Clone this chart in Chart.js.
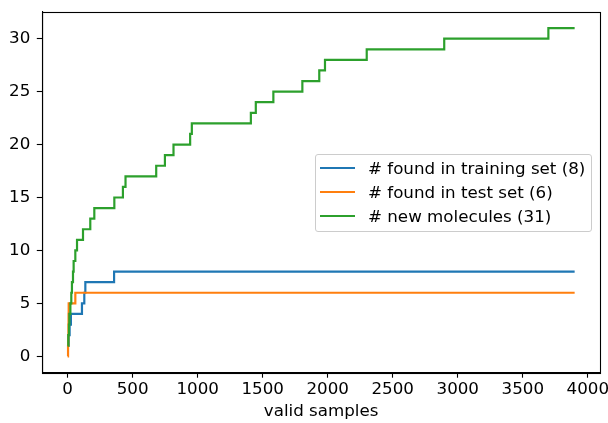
<!DOCTYPE html>
<html>
<head>
<meta charset="utf-8">
<script src="https://cdn.jsdelivr.net/npm/chart.js@4/dist/chart.umd.min.js"></script>
<style>
  body { margin: 0; background: #fff; }
  #wrap { position: relative; width: 608px; height: 423px; }
  #legend {
    position: absolute; left: 315px; top: 154px; width: 275px; height: 75px;
    border: 1px solid #cccccc; border-radius: 3px; background: rgba(255,255,255,0.8);
    font-family: "DejaVu Sans", sans-serif; font-size: 16.7px; color: #000;
    padding-top: 0.5px; box-sizing: content-box;
  }
  .row { position: relative; height: 24.3px; line-height: 24.3px; white-space: nowrap; }
  .row .h { position: absolute; left: 4px; top: 11px; width: 35px; height: 2.2px; }
  .row .t { position: absolute; left: 52px; top: 0; }
</style>
</head>
<body>
<div id="wrap">
  <canvas id="grafik" width="608" height="423"></canvas>
  <div id="legend"></div>
</div>
<script>
// cumulative counts vs. valid samples (x = sample where the count steps up)
const trainX = [0, 8, 15, 25, 110, 128, 136, 357, 3899];
const trainY = [1, 2, 3, 4, 5, 6, 7, 8, 8];

const testX = [0, 3, 5, 6, 7, 8, 59, 3899];
const testY = [0, 1, 2, 3, 4, 5, 6, 6];

const newX = [0, 5, 10, 13, 21, 28, 33, 41, 46, 59, 72, 118, 174, 205, 359, 425, 445,
              681, 748, 814, 942, 955, 1409, 1447, 1582, 1805, 1935, 1979, 2300, 2896, 3697, 3899];
const newY = [1, 2, 3, 4, 5, 6, 7, 8, 9, 10, 11, 12, 13, 14, 15, 16, 17,
              18, 19, 20, 21, 22, 23, 24, 25, 26, 27, 28, 29, 30, 31, 31];

const seriesLabels = ["# found in training set (8)", "# found in test set (6)", "# new molecules (31)"];
const seriesColors = ["#1f77b4", "#ff7f0e", "#2ca02c"];

const xTicks = [0, 500, 1000, 1500, 2000, 2500, 3000, 3500, 4000];
const yTicks = [0, 5, 10, 15, 20, 25, 30];

const fontFam = "'DejaVu Sans', sans-serif";
const fontSize = 16.7;

function noktalar(xs, ys) {
    return xs.map((x, i) => ({ x: x, y: ys[i] }));
}

const cerceve = {
    id: "cerceve",
    afterDraw(chart) {
        const a = chart.chartArea;
        const c = chart.ctx;
        c.save();
        c.strokeStyle = "#000";
        c.lineWidth = 1.1;
        c.strokeRect(Math.round(a.left) + 0.5, Math.round(a.top) + 0.5,
                     Math.round(a.right - a.left), Math.round(a.bottom - a.top));
        c.restore();
    }
};

const ds = [
    { data: noktalar(trainX, trainY), order: 2 },
    { data: noktalar(testX, testY), order: 1 },
    { data: noktalar(newX, newY), order: 0 }
].map((d, i) => Object.assign(d, {
    label: seriesLabels[i],
    borderColor: seriesColors[i],
    backgroundColor: seriesColors[i],
    borderWidth: 2.2,
    pointRadius: 0,
    stepped: "before",
    fill: false
}));

const chart = new Chart(document.getElementById("grafik"), {
    type: "line",
    data: { datasets: ds },
    options: {
        responsive: false,
        animation: false,
        devicePixelRatio: 1,
        layout: { padding: { top: 11.7, right: 8, left: 0, bottom: 0 } },
        plugins: { legend: { display: false }, tooltip: { enabled: false } },
        scales: {
            x: {
                type: "linear",
                min: -195,
                max: 4094,
                afterBuildTicks: s => { s.ticks = xTicks.map(v => ({ value: v })); },
                afterFit: s => { s.height = 50.3; s.paddingLeft = 0; s.paddingRight = 0; },
                grid: { drawOnChartArea: false, tickLength: 5, tickColor: "#000", tickWidth: 1.1 },
                border: { display: true, color: "#000", width: 1.1 },
                ticks: { color: "#000", font: { family: fontFam, size: fontSize }, padding: 2, maxRotation: 0,
                         callback: v => String(v) },
                title: { display: true, text: "valid samples", color: "#000",
                         font: { family: fontFam, size: fontSize }, padding: { top: 0, bottom: 1 } }
            },
            y: {
                min: -1.55,
                max: 32.55,
                afterBuildTicks: s => { s.ticks = yTicks.map(v => ({ value: v })); },
                afterFit: s => { s.width = 42.3; s.paddingTop = 0; s.paddingBottom = 0; },
                grid: { drawOnChartArea: false, tickLength: 5.5, tickColor: "#000", tickWidth: 1.1 },
                border: { display: true, color: "#000", width: 1.1 },
                ticks: { color: "#000", font: { family: fontFam, size: fontSize }, padding: 6.5,
                         callback: v => String(v) }
            }
        }
    },
    plugins: [cerceve]
});

// legend box drawn as html, filled from the datasets
const alan = document.getElementById("legend");
chart.data.datasets.forEach(d => {
    alan.innerHTML += `
    <div class="row">
        <span class="h" style="background:${d.borderColor}"></span>
        <span class="t">${d.label}</span>
    </div>`;
});
</script>
</body>
</html>
